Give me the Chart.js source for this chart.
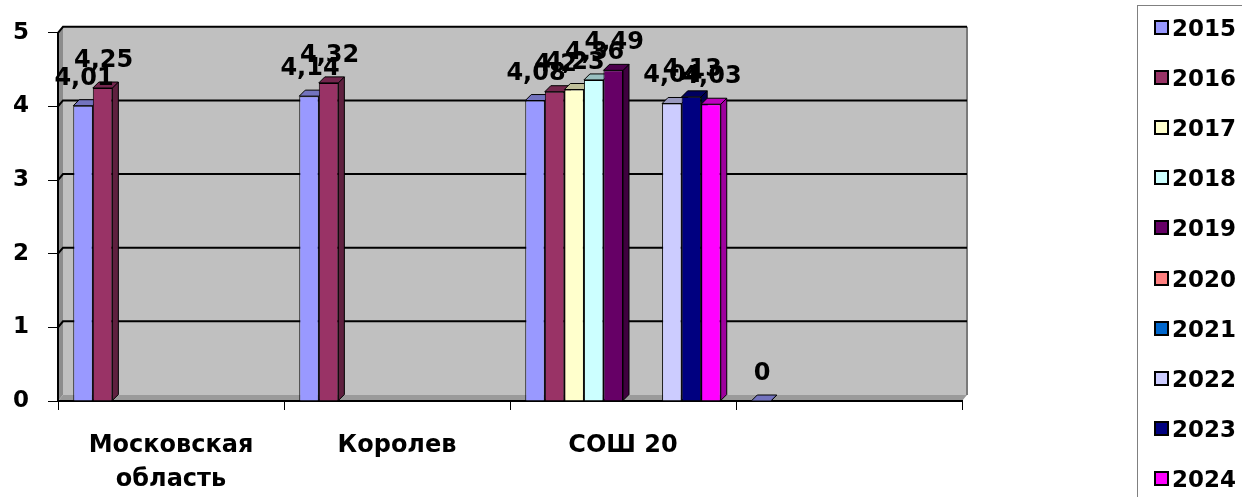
<!DOCTYPE html>
<html>
<head>
<meta charset="utf-8">
<script src="https://cdn.jsdelivr.net/npm/chart.js@4"></script>
<style>
    html, body { margin: 0; padding: 0; background: #fff; }
    #wrap { position: relative; width: 1242px; height: 497px; overflow: hidden; }
    #legendBox {
        position: absolute; left: 1137px; top: 5px; width: 200px; height: 600px;
        border: 1px solid #808080; box-sizing: border-box;
    }
    .legItem {
        position: absolute; left: 16px; height: 30px;
        font: bold 23px "DejaVu Sans", sans-serif; color: #000; line-height: 30px;
        white-space: nowrap;
    }
    .legItem span.sw {
        display: inline-block; width: 11px; height: 11px; border: 2px solid #000;
        vertical-align: middle; margin-right: 3px; position: relative; top: -2px;
    }
</style>
</head>
<body>
<div id="wrap">
    <canvas id="chart" width="1242" height="497"></canvas>
    <div id="legendBox"></div>
</div>
<script>
// Категории и ряды
const categories = [['Московская', 'область'], 'Королев', 'СОШ 20', ''];
const years = ['2015', '2016', '2017', '2018', '2019', '2020', '2021', '2022', '2023', '2024'];
const colors = ['#9999FF', '#993366', '#FFFFCC', '#CCFFFF', '#660066', '#FF8080', '#0066CC', '#CCCCFF', '#000080', '#FF00FF'];

const v2015 = [4.01, 4.14, 4.08, 0];
const v2016 = [4.25, 4.32, 4.2, null];
const v2017 = [null, null, 4.23, null];
const v2018 = [null, null, 4.36, null];
const v2019 = [null, null, 4.49, null];
const v2020 = [null, null, null, null];
const v2021 = [null, null, null, null];
const v2022 = [null, null, 4.04, null];
const v2023 = [null, null, 4.13, null];
const v2024 = [null, null, 4.03, null];
const seriesValues = [v2015, v2016, v2017, v2018, v2019, v2020, v2021, v2022, v2023, v2024];

const yTicks = [0, 1, 2, 3, 4, 5];

const DX = 6, DY = 6;   // глубина "3D"
const FONT = '"DejaVu Sans", sans-serif';

// Затемнение цвета
function shade(hex, k) {
    const n = parseInt(hex.slice(1), 16);
    const r = Math.round(((n >> 16) & 255) * k);
    const g = Math.round(((n >> 8) & 255) * k);
    const b = Math.round((n & 255) * k);
    return `rgb(${r},${g},${b})`;
}

// Стенки, пол и сетка
const wallsPlugin = {
    id: 'walls',
    beforeDraw(chart) {
        const ctx = chart.ctx;
        const a = chart.chartArea;
        const y = chart.scales.y;
        ctx.save();
        // задняя стенка
        ctx.fillStyle = '#C0C0C0';
        ctx.fillRect(a.left + DX - 1, a.top - DY, a.right - a.left, a.bottom - a.top);
        // левая стенка
        ctx.fillStyle = '#8C8C8C';
        ctx.beginPath();
        ctx.moveTo(a.left, a.top);
        ctx.lineTo(a.left + DX - 1, a.top - DY);
        ctx.lineTo(a.left + DX - 1, a.bottom - DY);
        ctx.lineTo(a.left, a.bottom);
        ctx.closePath();
        ctx.fill();
        // пол
        ctx.fillStyle = '#9A9A9A';
        ctx.beginPath();
        ctx.moveTo(a.left, a.bottom);
        ctx.lineTo(a.left + DX - 1, a.bottom - DY);
        ctx.lineTo(a.right + DX - 1, a.bottom - DY);
        ctx.lineTo(a.right, a.bottom);
        ctx.closePath();
        ctx.fill();
        // правый край стенки
        ctx.strokeStyle = '#7A7A7A';
        ctx.lineWidth = 2;
        ctx.beginPath();
        ctx.moveTo(a.right + DX - 1, a.top - DY);
        ctx.lineTo(a.right + DX - 1, a.bottom - DY);
        ctx.stroke();
        // линии сетки
        ctx.strokeStyle = '#000';
        ctx.lineWidth = 2;
        yTicks.forEach(v => {
            if (v === 0) return;
            const py = y.getPixelForValue(v);
            ctx.beginPath();
            ctx.moveTo(a.left, py);
            ctx.lineTo(a.left + DX - 1, py - DY);
            ctx.lineTo(a.right + DX - 1, py - DY);
            ctx.stroke();
        });
        ctx.restore();
    },
    beforeDatasetsDraw(chart) {
        const ctx = chart.ctx;
        ctx.save();
        ctx.lineWidth = 1;
        ctx.strokeStyle = '#000';
        chart.data.datasets.forEach((ds, i) => {
            const meta = chart.getDatasetMeta(i);
            meta.data.forEach((bar, j) => {
                if (ds.data[j] === null) return;
                const p = bar.getProps(['x', 'y', 'base', 'width'], true);
                const l = p.x - p.width / 2, r = p.x + p.width / 2;
                // боковая грань
                ctx.fillStyle = shade(colors[i], 0.62);
                ctx.beginPath();
                ctx.moveTo(r, p.y);
                ctx.lineTo(r + DX, p.y - DY);
                ctx.lineTo(r + DX, p.base - DY);
                ctx.lineTo(r, p.base);
                ctx.closePath();
                ctx.fill();
                ctx.stroke();
                // верхняя грань
                ctx.fillStyle = shade(colors[i], 0.75);
                ctx.beginPath();
                ctx.moveTo(l, p.y);
                ctx.lineTo(l + DX, p.y - DY);
                ctx.lineTo(r + DX, p.y - DY);
                ctx.lineTo(r, p.y);
                ctx.closePath();
                ctx.fill();
                ctx.stroke();
            });
        });
        ctx.restore();
    },
    afterDatasetsDraw(chart) {
        // подписи значений
        const ctx = chart.ctx;
        ctx.save();
        ctx.font = 'bold 24px ' + FONT;
        ctx.fillStyle = '#000';
        ctx.textAlign = 'center';
        ctx.textBaseline = 'alphabetic';
        chart.data.datasets.forEach((ds, i) => {
            const meta = chart.getDatasetMeta(i);
            meta.data.forEach((bar, j) => {
                const v = ds.data[j];
                if (v === null) return;
                const p = bar.getProps(['x', 'y'], true);
                ctx.fillText(String(v).replace('.', ','), p.x + 1, p.y - 21);
            });
        });
        ctx.restore();
    }
};

// Легенда
function buildLegend() {
    const box = document.getElementById('legendBox');
    years.forEach((yr, i) => {
        const item = document.createElement('div');
        item.className = 'legItem';
        item.style.top = (26.5 + i * 50.2 - 15 - 5) + 'px';
        const sw = document.createElement('span');
        sw.className = 'sw';
        sw.style.background = colors[i];
        item.appendChild(sw);
        item.appendChild(document.createTextNode(yr));
        box.appendChild(item);
    });
}

function initChart() {
    const ctx = document.getElementById('chart').getContext('2d');
    new Chart(ctx, {
        type: 'bar',
        data: {
            labels: categories,
            datasets: years.map((yr, i) => ({
                label: yr,
                data: seriesValues[i],
                backgroundColor: colors[i],
                borderColor: '#000',
                borderWidth: 1,
                barPercentage: 1,
                categoryPercentage: 0.865
            }))
        },
        options: {
            responsive: false,
            animation: false,
            layout: { padding: { left: 0, right: 280, top: 30, bottom: 0 } },
            plugins: {
                legend: { display: false },
                tooltip: { enabled: false }
            },
            scales: {
                x: {
                    grid: {
                        offset: true,
                        drawOnChartArea: false,
                        drawTicks: true,
                        tickLength: 9,
                        color: '#000',
                        lineWidth: 1
                    },
                    border: { display: true, color: '#000', width: 2 },
                    ticks: {
                        color: '#000',
                        padding: 18,
                        maxRotation: 0,
                        autoSkip: false,
                        font: { family: FONT, size: 24, weight: 'bold', lineHeight: 1.45 }
                    },
                    afterFit(scale) { scale.height = 96; }
                },
                y: {
                    min: 0,
                    max: 5,
                    afterBuildTicks(scale) {
                        scale.ticks = yTicks.map(v => ({ value: v }));
                    },
                    grid: {
                        drawOnChartArea: false,
                        drawTicks: true,
                        tickLength: 10,
                        color: '#000',
                        lineWidth: 1
                    },
                    border: { display: true, color: '#000', width: 2 },
                    ticks: {
                        color: '#000',
                        padding: 19,
                        font: { family: FONT, size: 23, weight: 'bold' }
                    },
                    afterFit(scale) { scale.width = 58; }
                }
            }
        },
        plugins: [wallsPlugin]
    });
}

(function() {
    buildLegend();
    initChart();
})();
</script>
</body>
</html>
